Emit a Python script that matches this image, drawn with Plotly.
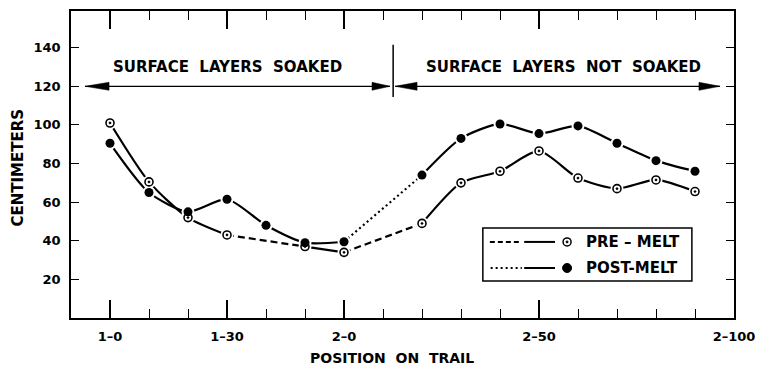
import plotly.graph_objects as go

# Trail positions (stations counted along the trail; 1-60 == 2-0)
tick_pos = [0, 30, 60, 110, 160]
tick_text = ["1–0", "1–30", "2–0", "2–50", "2–100"]
y_ticks = [20, 40, 60, 80, 100, 120, 140]

# Snow depth in centimetres
pre_x = [0, 10, 20, 30, 50, 60, 80, 90, 100, 110, 120, 130, 140, 150]
pre_y = [101, 70.5, 52, 43, 37, 34, 49, 70, 76, 86.5, 72.5, 67, 71.5, 65.5]
post_x = [0, 10, 20, 30, 40, 50, 60, 80, 90, 100, 110, 120, 130, 140, 150]
post_y = [90.5, 65, 55, 61.5, 48, 39, 39.5, 74, 93, 100.5, 95.5, 99.5, 90.5, 81.5, 76]

# (start index, end index, dash) pieces of each curve; dashed/dotted pieces bridge gaps
pre_pieces = [(0, 3, "solid"), (3, 4, "7px,4px"), (4, 5, "solid"), (5, 6, "7px,4px"), (6, 13, "solid")]
post_pieces = [(0, 6, "solid"), (6, 7, "2px,3px"), (7, 14, "solid")]

FONT = "DejaVu Sans"
INK = "black"

fig = go.Figure()


def add_pieces(xs, ys, pieces):
    for a, b, dash in pieces:
        fig.add_trace(go.Scatter(
            x=xs[a:b + 1], y=ys[a:b + 1], mode="lines",
            line=dict(color=INK, width=2.2, dash=dash, shape="spline", smoothing=0.7),
            showlegend=False, hoverinfo="skip"))


add_pieces(pre_x, pre_y, pre_pieces)
add_pieces(post_x, post_y, post_pieces)

# white halos so the lines stop short of each symbol
for xs, ys in ((pre_x, pre_y), (post_x, post_y)):
    fig.add_trace(go.Scatter(x=xs, y=ys, mode="markers",
                             marker=dict(symbol="circle", size=13, color="white"),
                             showlegend=False, hoverinfo="skip"))

fig.add_trace(go.Scatter(x=pre_x, y=pre_y, mode="markers", name="PRE-MELT",
                         marker=dict(symbol="circle-open-dot", size=8, color=INK,
                                     line=dict(width=1.6, color=INK)),
                         showlegend=False))
fig.add_trace(go.Scatter(x=post_x, y=post_y, mode="markers", name="POST-MELT",
                         marker=dict(symbol="circle", size=9, color=INK),
                         showlegend=False))

shapes = []
# double-headed arrows at the 120 level and the divider between zones
arrow_y = 120
for x0, x1 in ((-6.4, 71.8), (73.1, 156.4)):
    shapes.append(dict(type="line", xref="x", yref="y", x0=x0, x1=x1, y0=arrow_y, y1=arrow_y,
                       line=dict(color=INK, width=1.3)))
for tip, path in ((-6.4, "M0,0 L24,4 L24,-4 Z"), (71.8, "M0,0 L-18,4 L-18,-4 Z"),
                  (73.1, "M0,0 L22,4 L22,-4 Z"), (156.4, "M0,0 L-21,4 L-21,-4 Z")):
    shapes.append(dict(type="path", xref="x", yref="y", xsizemode="pixel", ysizemode="pixel",
                       xanchor=tip, yanchor=arrow_y, path=path,
                       fillcolor=INK, line=dict(color=INK, width=0.5)))
shapes.append(dict(type="line", xref="x", yref="y", x0=72.6, x1=72.6, y0=114.5, y1=141.5,
                   line=dict(color=INK, width=1.5)))

# key box
shapes.append(dict(type="rect", xref="x", yref="y", x0=95.6, x1=149.2, y0=19.2, y1=46.6,
                   line=dict(color=INK, width=1.5), fillcolor="white", layer="below"))
row1, row2 = 39.4, 25.9
shapes += [
    dict(type="line", xref="x", yref="y", x0=97.4, x1=105.6, y0=row1, y1=row1,
         line=dict(color=INK, width=2, dash="5px,3px")),
    dict(type="line", xref="x", yref="y", x0=106.2, x1=114.1, y0=row1, y1=row1,
         line=dict(color=INK, width=2)),
    dict(type="line", xref="x", yref="y", x0=97.6, x1=105.6, y0=row2, y1=row2,
         line=dict(color=INK, width=2, dash="2px,3px")),
    dict(type="line", xref="x", yref="y", x0=106.2, x1=114.1, y0=row2, y1=row2,
         line=dict(color=INK, width=2)),
    dict(type="circle", xref="x", yref="y", xsizemode="pixel", ysizemode="pixel",
         xanchor=117.2, yanchor=row1, x0=-4, x1=4, y0=-4, y1=4,
         line=dict(color=INK, width=1.5), fillcolor="white"),
    dict(type="circle", xref="x", yref="y", xsizemode="pixel", ysizemode="pixel",
         xanchor=117.2, yanchor=row1, x0=-1, x1=1, y0=-1, y1=1,
         line=dict(color=INK, width=1), fillcolor=INK),
    dict(type="circle", xref="x", yref="y", xsizemode="pixel", ysizemode="pixel",
         xanchor=117.2, yanchor=row2, x0=-4.5, x1=4.5, y0=-4.5, y1=4.5,
         line=dict(color=INK, width=1), fillcolor=INK),
]

BOLD = dict(family=FONT, color=INK, weight="bold")
annotations = [
    dict(x=30, y=130, xref="x", yref="y", text="SURFACE  LAYERS  SOAKED", showarrow=False,
         font=dict(BOLD, size=15)),
    dict(x=116.4, y=130, xref="x", yref="y", text="SURFACE  LAYERS  NOT  SOAKED", showarrow=False,
         font=dict(BOLD, size=15)),
    dict(x=121.5, y=row1, xref="x", yref="y", text="PRE – MELT", showarrow=False, xanchor="left",
         font=dict(BOLD, size=15)),
    dict(x=121.5, y=row2, xref="x", yref="y", text="POST-MELT", showarrow=False, xanchor="left",
         font=dict(BOLD, size=15)),
    dict(x=0.484, y=-0.13, xref="paper", yref="paper", text="POSITION  ON  TRAIL", showarrow=False,
         xanchor="center", yanchor="middle", font=dict(BOLD, size=14)),
    dict(x=-0.08, y=0.49, xref="paper", yref="paper", text="CENTIMETERS", showarrow=False,
         xanchor="center", yanchor="middle", textangle=-90, font=dict(BOLD, size=15)),
]

fig.update_layout(
    width=760, height=369,
    margin=dict(l=71, r=26, t=11, b=51, autoexpand=False),
    paper_bgcolor="white", plot_bgcolor="white",
    shapes=shapes, annotations=annotations,
    font=dict(family=FONT, color=INK),
)
fig.update_xaxes(
    range=[-10, 160], tickvals=tick_pos, ticktext=tick_text, automargin=False,
    ticks="inside", ticklen=18, tickwidth=1.5, tickcolor=INK,
    minor=dict(dtick=10, tick0=0, ticks="inside", ticklen=9, tickwidth=1.3, tickcolor=INK, showgrid=False),
    showline=True, linewidth=1.5, linecolor=INK, mirror="ticks",
    showgrid=False, zeroline=False, ticklabelstandoff=6,
    tickfont=dict(BOLD, size=13),
)
fig.update_yaxes(
    range=[0, 159], tickvals=y_ticks, automargin=False,
    ticks="inside", ticklen=8, tickwidth=1.3, tickcolor=INK,
    showline=True, linewidth=1.5, linecolor=INK, mirror="ticks",
    showgrid=False, zeroline=False, ticklabelstandoff=6,
    tickfont=dict(BOLD, size=13),
)

fig.write_html("out.html")
